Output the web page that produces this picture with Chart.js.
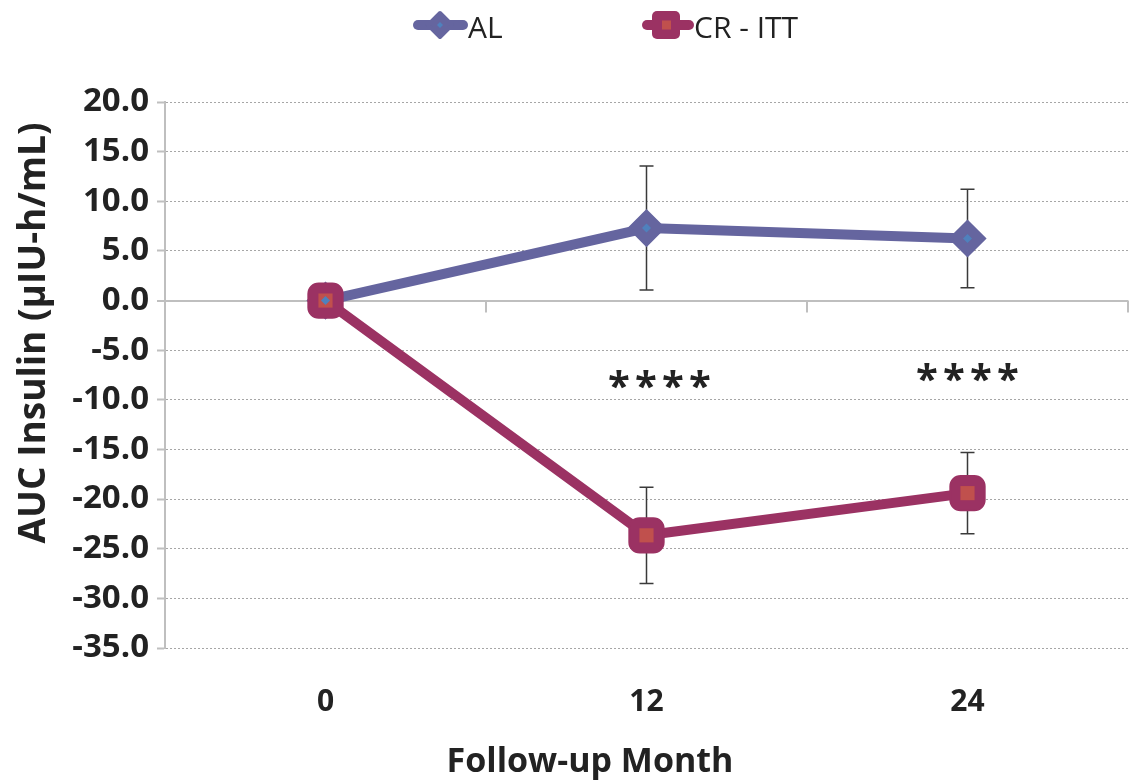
<!DOCTYPE html>
<html><head><meta charset="utf-8">
<script src="https://cdn.jsdelivr.net/npm/chart.js@4.4.1/dist/chart.umd.min.js"></script>
<style>html,body{margin:0;padding:0;background:#fff}#wrap{width:1137px;height:782px}</style>
</head><body><div id="wrap"><canvas id="c" width="1137" height="782"></canvas></div>
<script>
// ---- data ----
const categories = ['0', '12', '24'];
const alValues = [0, 7.3, 6.25];
const alErrors = [0, 6.25, 4.97];
const crValues = [0, -23.65, -19.4];
const crErrors = [0, 4.85, 4.1];
const sigMarks = ['', '****', '****'];
const sigValues = [null, -8.0, -7.3];
const legendLabels = ['AL', 'CR - ITT'];
const xTitle = 'Follow-up Month';
const yTitle = 'AUC Insulin (µIU-h/mL)';

const AL_COLOR = '#65659F', AL_INNER = '#4F81BD';
const CR_COLOR = '#9B3263', CR_INNER = '#C0504D';
const TEXT = '#222';
const FONT = "'Open Sans', 'DejaVu Sans', sans-serif";

const extras = {
  id: 'extras',
  beforeDatasetsDraw(chart) {
    const ctx = chart.ctx, y = chart.scales.y;
    const sets = [[0, alValues, alErrors], [1, crValues, crErrors]];
    ctx.save();
    ctx.strokeStyle = '#3a3a3a';
    ctx.lineWidth = 1.5;
    sets.forEach(([di, vals, errs]) => {
      const meta = chart.getDatasetMeta(di);
      vals.forEach((v, i) => {
        if (!errs[i]) return;
        const x = meta.data[i].x;
        const t = y.getPixelForValue(v + errs[i]);
        const b = y.getPixelForValue(v - errs[i]);
        ctx.beginPath();
        ctx.moveTo(x, t); ctx.lineTo(x, b);
        ctx.moveTo(x - 7, t); ctx.lineTo(x + 7, t);
        ctx.moveTo(x - 7, b); ctx.lineTo(x + 7, b);
        ctx.stroke();
      });
    });
    const xs = chart.scales.x;
    const y0 = y.getPixelForValue(0);
    ctx.strokeStyle = '#BFBFBF';
    ctx.lineWidth = 2;
    for (let i = 1; i <= categories.length; i++) {
      const px = xs.getPixelForValue(i - 0.5);
      ctx.beginPath();
      ctx.moveTo(px, y0); ctx.lineTo(px, y0 + 12);
      ctx.stroke();
    }
    ctx.restore();
  },
  afterDatasetsDraw(chart) {
    const ctx = chart.ctx, y = chart.scales.y, xs = chart.scales.x;
    ctx.save();
    ctx.fillStyle = TEXT;
    ctx.font = `bold 40px ${FONT}`;
    ctx.textAlign = 'center';
    ctx.textBaseline = 'middle';
    const offs = [0, 13, 0];
    sigMarks.forEach((s, i) => {
      if (!s) return;
      const cx = xs.getPixelForValue(i) + offs[i];
      const cy = y.getPixelForValue(sigValues[i]) + 9;
      const n = s.length;
      for (let k = 0; k < n; k++) {
        ctx.fillText(s[k], cx + (k - (n - 1) / 2) * 27, cy);
      }
    });
    ctx.restore();
  },
  afterDraw(chart) {
    const ctx = chart.ctx;
    ctx.save();
    const cy = 25;
    ctx.strokeStyle = AL_COLOR; ctx.lineWidth = 10; ctx.lineCap = 'round';
    ctx.beginPath(); ctx.moveTo(418, cy); ctx.lineTo(463, cy); ctx.stroke();
    ctx.fillStyle = AL_COLOR; ctx.lineJoin = 'round'; ctx.lineWidth = 4;
    ctx.beginPath(); ctx.moveTo(440, cy - 12); ctx.lineTo(452, cy); ctx.lineTo(440, cy + 12); ctx.lineTo(428, cy); ctx.closePath();
    ctx.fill(); ctx.stroke();
    ctx.fillStyle = AL_INNER;
    ctx.beginPath(); ctx.moveTo(440, cy - 3); ctx.lineTo(443, cy); ctx.lineTo(440, cy + 3); ctx.lineTo(437, cy); ctx.closePath(); ctx.fill();
    ctx.strokeStyle = CR_COLOR; ctx.lineWidth = 10;
    ctx.beginPath(); ctx.moveTo(647, cy); ctx.lineTo(689, cy); ctx.stroke();
    ctx.fillStyle = CR_COLOR;
    ctx.beginPath(); ctx.roundRect(652, cy - 14, 28, 28, 5); ctx.fill();
    ctx.fillStyle = CR_INNER;
    ctx.fillRect(662, cy - 4.5, 9, 9);
    ctx.fillStyle = TEXT;
    ctx.font = `30px ${FONT}`;
    ctx.textBaseline = 'alphabetic';
    ctx.textAlign = 'left';
    ctx.fillText(legendLabels[0], 468, 38);
    ctx.fillText(legendLabels[1], 694, 38);
    ctx.textAlign = 'center';
    ctx.textBaseline = 'middle';
    ctx.font = `bold 34px ${FONT}`;
    ctx.fillText(xTitle, 590, 762);
    ctx.translate(34, 333);
    ctx.rotate(-Math.PI / 2);
    ctx.font = `bold 37px ${FONT}`;
    ctx.fillText(yTitle, 0, 0);
    ctx.restore();
  }
};

new Chart(document.getElementById('c'), {
  type: 'line',
  data: {
    labels: categories,
    datasets: [
      { label: legendLabels[0], data: alValues, order: 2,
        borderColor: AL_COLOR, backgroundColor: AL_COLOR, borderWidth: 10,
        pointStyle: 'rectRot', pointRadius: 17, pointBorderWidth: 3,
        pointBackgroundColor: AL_COLOR, pointBorderColor: AL_COLOR, tension: 0 },
      { label: legendLabels[1], data: crValues, order: 1,
        borderColor: CR_COLOR, backgroundColor: CR_COLOR, borderWidth: 10,
        pointStyle: 'rectRounded', pointRadius: 20, pointBorderWidth: 2,
        pointBackgroundColor: CR_COLOR, pointBorderColor: CR_COLOR, tension: 0 },
      { label: 'AL inner', data: alValues, order: 0, showLine: false,
        pointStyle: 'rectRot', pointRadius: 4.5, pointBorderWidth: 0,
        pointBackgroundColor: AL_INNER },
      { label: 'CR inner', data: crValues, order: 0, showLine: false,
        pointStyle: 'rect', pointRadius: 10, pointBorderWidth: 0,
        pointBackgroundColor: CR_INNER }
    ]
  },
  options: {
    responsive: false,
    animation: false,
    devicePixelRatio: 1,
    events: [],
    layout: { autoPadding: false, padding: { top: 102, right: 9, bottom: 0, left: 0 } },
    plugins: { legend: { display: false }, tooltip: { enabled: false } },
    scales: {
      x: {
        offset: true,
        grid: { display: false, drawTicks: false },
        border: { display: false },
        ticks: { color: TEXT, font: { family: FONT, size: 30, weight: 'bold' }, padding: 36 },
        afterFit(s) { s.height = 134; s.paddingLeft = 0; s.paddingRight = 0; }
      },
      y: {
        min: -35, max: 20,
        ticks: { stepSize: 5, color: TEXT, font: { family: FONT, size: 33, weight: 'bold' },
                 padding: 8, callback: v => Number(v).toFixed(1) },
        grid: {
          color: c => (c.tick && c.tick.value === 0) ? '#BFBFBF' : '#A6A6A6',
          lineWidth: c => (c.tick && c.tick.value === 0) ? 2 : 1,
          drawTicks: true, tickLength: 8, tickColor: '#BFBFBF', tickWidth: 2, tickBorderDash: []
        },
        border: { color: '#BFBFBF', width: 2,
                  dash: c => (c.tick && c.tick.value === 0) ? [] : [2, 2] },
        afterFit(s) { s.width = 165; }
      }
    }
  },
  plugins: [extras]
});
</script></body></html>
